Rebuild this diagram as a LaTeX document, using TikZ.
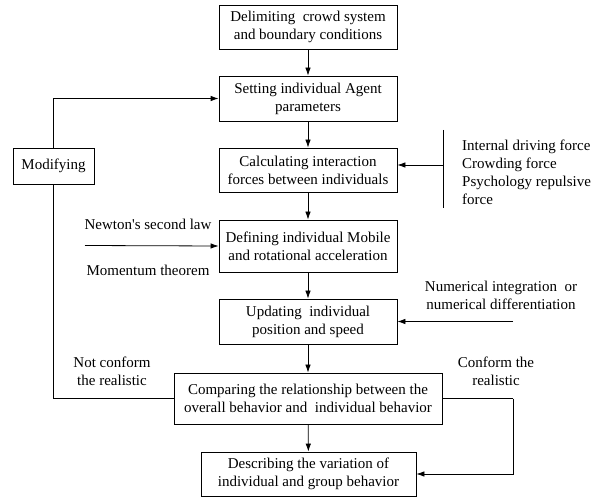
\documentclass[tikz,border=0pt]{standalone}
\usepackage{fontspec}
\setmainfont{Liberation Serif}[Ligatures=TeXOff]
\usetikzlibrary{arrows.meta}
\begin{document}
\begin{tikzpicture}[x=1pt,y=-1pt,
  every node/.style={font=\fontsize{15}{18}\selectfont, inner sep=0pt},
  box/.style={draw, line width=0.8pt, align=center},
  lbl/.style={align=center},
  conn/.style={line width=0.8pt},
  arr/.style={conn, -{Latex[length=8pt,width=5.5pt]}}]
\useasboundingbox (0,0) rectangle (603,497);
% main boxes
\node[box, minimum width=178pt, minimum height=44pt] (b1) at (308,27) {Delimiting\ \ crowd system\\and boundary conditions};
\node[box, minimum width=178pt, minimum height=45pt] (b2) at (308,98.5) {Setting individual Agent\\parameters};
\node[box, minimum width=178pt, minimum height=44pt] (b3) at (308,170) {Calculating interaction\\forces between individuals};
\node[box, minimum width=178pt, minimum height=52pt] (b4) at (308,246) {Defining individual Mobile\\and rotational acceleration};
\node[box, minimum width=178pt, minimum height=45pt] (b5) at (308,321.5) {Updating\ \ individual\\position and speed};
\node[box, minimum width=268pt, minimum height=51pt] (b6) at (308,398.5) {Comparing the relationship between the\\overall behavior and\ \ individual behavior};
\node[box, minimum width=215pt, minimum height=44pt] (b7) at (308.5,474) {Describing the variation of\\individual and group behavior};
\node[box, minimum width=81pt, minimum height=36pt] (mod) at (53.5,166) {Modifying};
% side labels
\node[align=left, anchor=west] (forces) at (462,172) {Internal driving force\\Crowding force\\Psychology repulsive\\force};
\node[lbl] (newton) at (148,224) {Newton's second law};
\node[lbl] (moment) at (148,270) {Momentum theorem};
\node[lbl] (numer) at (501,295.5) {Numerical integration\ \ or\\numerical differentiation};
\node[lbl] (notc) at (112,371.5) {Not conform\\the realistic};
\node[lbl] (conf) at (496,371) {Conform the\\realistic};
% coordinates
\coordinate (fT) at (443,130);
\coordinate (fB) at (443,208);
\coordinate (fA) at (443,165);
\coordinate (nS) at (85,245.5);
\coordinate (uS) at (513,321.5);
\coordinate (rC) at (513,398.5);
% connectors
\draw[arr] (b1) -- (b2);
\draw[arr] (b2) -- (b3);
\draw[arr] (b3) -- (b4);
\draw[arr] (b4) -- (b5);
\draw[arr] (b5) -- (b6);
\draw[arr] (b6) -- (b7);
\draw[conn] (b6.west) -| (mod.south);
\draw[arr] (mod.north) |- (b2.west);
\draw[conn] (b6.east) -- (rC);
\draw[arr] (rC) |- (b7.east);
\draw[conn] (fT) -- (fB);
\draw[arr] (fA) -- (fA -| b3.east);
\draw[arr] (nS) -- (b4.west);
\draw[arr] (uS) -- (b5.east);
\end{tikzpicture}
\end{document}
